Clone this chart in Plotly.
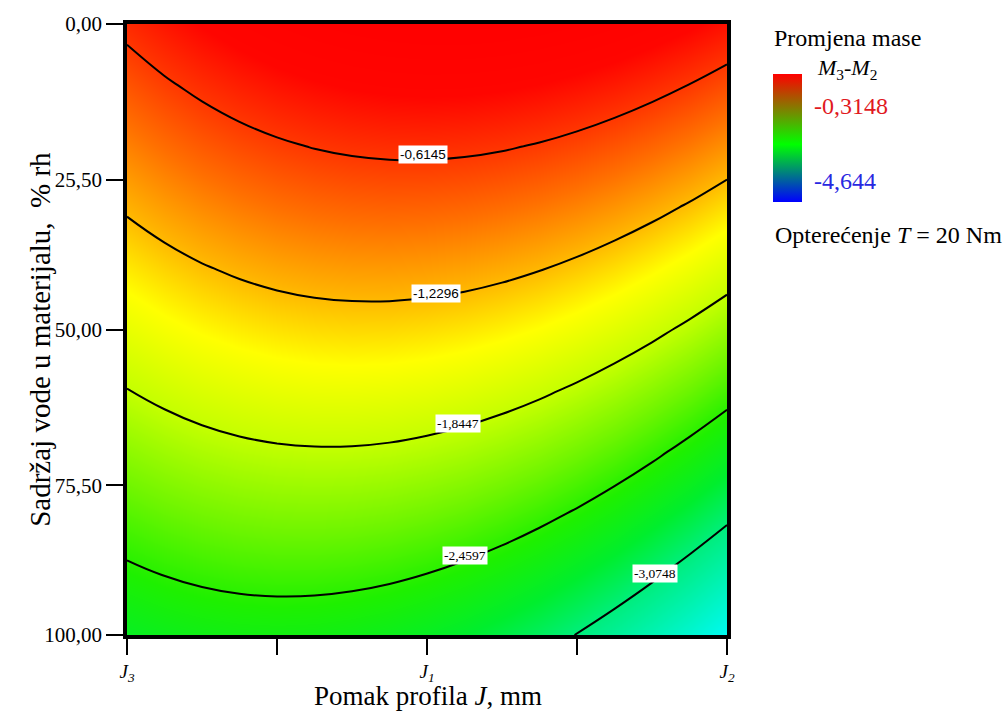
import plotly.graph_objects as go

# ---------------- data ----------------
# profile shift J, coded levels: J3 = -1, J1 = 0, J2 = +1
pomak_J = [-1.0, -0.875, -0.75, -0.625, -0.5, -0.375, -0.25, -0.125, 0.0,
           0.125, 0.25, 0.375, 0.5, 0.625, 0.75, 0.875, 1.0]
# water content in material, % rh
sadrzaj_vode = [0, 10, 20, 30, 40, 50, 60, 70, 80, 90, 100]
# mass change M3-M2 (rows follow sadrzaj_vode, columns follow pomak_J)
promjena_mase = [
    [-0.540, -0.423, -0.320, -0.232, -0.159, -0.099, -0.055, -0.024, -0.008, -0.006, -0.019, -0.047, -0.088, -0.144, -0.215, -0.300, -0.399],
    [-0.759, -0.648, -0.553, -0.471, -0.404, -0.352, -0.314, -0.290, -0.281, -0.286, -0.305, -0.339, -0.388, -0.450, -0.528, -0.619, -0.725],
    [-0.977, -0.874, -0.785, -0.710, -0.650, -0.604, -0.573, -0.556, -0.553, -0.565, -0.591, -0.632, -0.687, -0.757, -0.840, -0.939, -1.052],
    [-1.196, -1.099, -1.017, -0.949, -0.895, -0.856, -0.832, -0.821, -0.826, -0.844, -0.877, -0.925, -0.986, -1.063, -1.153, -1.258, -1.378],
    [-1.415, -1.325, -1.249, -1.188, -1.141, -1.109, -1.091, -1.087, -1.098, -1.123, -1.163, -1.217, -1.286, -1.369, -1.466, -1.578, -1.704],
    [-1.634, -1.550, -1.481, -1.427, -1.387, -1.361, -1.350, -1.353, -1.371, -1.403, -1.449, -1.510, -1.585, -1.675, -1.779, -1.898, -2.031],
    [-1.852, -1.776, -1.713, -1.666, -1.632, -1.613, -1.609, -1.619, -1.643, -1.682, -1.735, -1.803, -1.885, -1.981, -2.092, -2.217, -2.357],
    [-2.071, -2.001, -1.945, -1.904, -1.878, -1.866, -1.868, -1.884, -1.916, -1.961, -2.021, -2.095, -2.184, -2.287, -2.405, -2.537, -2.683],
    [-2.290, -2.226, -2.178, -2.143, -2.123, -2.118, -2.127, -2.150, -2.188, -2.240, -2.307, -2.388, -2.483, -2.593, -2.718, -2.856, -3.009],
    [-2.508, -2.452, -2.410, -2.382, -2.369, -2.370, -2.386, -2.416, -2.461, -2.520, -2.593, -2.681, -2.783, -2.899, -3.030, -3.176, -3.336],
    [-2.727, -2.677, -2.642, -2.621, -2.615, -2.623, -2.645, -2.682, -2.733, -2.799, -2.879, -2.973, -3.082, -3.206, -3.343, -3.496, -3.662],
]

# contour levels shown
razine = [-3.0748, -2.4597, -1.8447, -1.2296, -0.6145]
razine_tekst = ["-3,0748", "-2,4597", "-1,8447", "-1,2296", "-0,6145"]
# where each level's label sits (J coded, % rh)
oznaka_J = [0.76, 0.127, 0.103, 0.03, -0.013]
oznaka_rh = [89.9, 87.0, 65.4, 44.1, 21.4]
oznaka_font = ["Liberation Serif", "Liberation Serif", "Liberation Serif",
               "Liberation Sans", "Liberation Sans"]

# axis ticks
x_tick_vals = [-1.0, -0.5, 0.0, 0.5, 1.0]
x_tick_text = ["<i>J</i><sub><i>3</i></sub>", "", "<i>J</i><sub><i>1</i></sub>", "",
               "<i>J</i><sub><i>2</i></sub>"]
y_tick_vals = [0, 25.5, 50, 75.5, 100]
y_tick_text = ["0,00", "25,50", "50,00", "75,50", "100,00"]

# legend values
legenda_max = -0.3148
legenda_min = -4.644

# ---------------- figure ----------------
SERIF = "Liberation Serif"

heat_scale = [
    [0.000, "rgb(0,250,250)"],
    [0.162, "rgb(0,238,130)"],
    [0.243, "rgb(0,238,45)"],
    [0.324, "rgb(30,240,0)"],
    [0.405, "rgb(110,245,0)"],
    [0.500, "rgb(195,255,0)"],
    [0.595, "rgb(255,255,0)"],
    [0.676, "rgb(255,178,0)"],
    [0.757, "rgb(255,112,0)"],
    [0.838, "rgb(255,52,0)"],
    [0.910, "rgb(255,5,0)"],
    [1.000, "rgb(255,0,0)"],
]

fig = go.Figure()

fig.add_trace(go.Heatmap(
    x=pomak_J, y=sadrzaj_vode, z=promjena_mase,
    zmin=-3.7, zmax=0.0, colorscale=heat_scale, zsmooth="best",
    showscale=False, hoverinfo="skip",
))

fig.add_trace(go.Contour(
    x=pomak_J, y=sadrzaj_vode, z=promjena_mase,
    contours=dict(coloring="none", start=-3.07478, end=-0.6140, size=0.61506,
                  showlabels=False),
    line=dict(color="black", width=2, smoothing=1.3),
    showscale=False, hoverinfo="skip",
))

# dummy trace carrying the legend colour bar (red -> green -> blue)
fig.add_trace(go.Scatter(
    x=[pomak_J[0]], y=[sadrzaj_vode[0]], mode="markers",
    marker=dict(size=1, opacity=0, color=[legenda_min], coloraxis="coloraxis"),
    hoverinfo="skip", showlegend=False,
))

for txt, xj, yr, fnt in zip(razine_tekst, oznaka_J, oznaka_rh, oznaka_font):
    fig.add_annotation(x=xj, y=yr, xref="x", yref="y", text=txt, showarrow=False,
                       bgcolor="white", borderpad=1,
                       font=dict(family=fnt, size=13.5, color="black"))

W, H = 1006, 715
L, R, T, B = 127, 279, 14, 80
pw, ph = W - L - R, H - T - B


def px(xp):
    return (xp - L) / pw


def py(yp):
    return (H - B - yp) / ph


fig.update_layout(
    width=W, height=H,
    margin=dict(l=L, r=R, t=T, b=B),
    paper_bgcolor="white", plot_bgcolor="white",
    font=dict(family=SERIF, color="black"),
    coloraxis=dict(
        cmin=legenda_min, cmax=0.0,
        colorscale=[[0.0, "rgb(0,0,255)"], [0.45, "rgb(0,255,0)"], [1.0, "rgb(255,0,0)"]],
        colorbar=dict(x=px(773), xanchor="left", y=py(65), yanchor="top",
                      thickness=29, lenmode="pixels", len=128,
                      xpad=0, ypad=0, outlinewidth=0,
                      ticks="", showticklabels=False),
    ),
    xaxis=dict(range=[-1, 1], tickvals=x_tick_vals, ticktext=x_tick_text,
               ticks="outside", ticklen=16, tickwidth=1.5, tickcolor="black",
               tickfont=dict(family=SERIF, size=19), showgrid=False, zeroline=False,
               showline=True, linewidth=3.5, linecolor="black", mirror=True),
    yaxis=dict(range=[100, 0], tickvals=y_tick_vals, ticktext=y_tick_text,
               ticks="outside", ticklen=17, tickwidth=1.5, tickcolor="black",
               tickfont=dict(family=SERIF, size=21), showgrid=False, zeroline=False,
               showline=True, linewidth=3.5, linecolor="black", mirror=True),
    showlegend=False,
)

ann = [
    dict(text="Sadržaj vode u materijalu,  % rh", x=px(40), y=py(335), textangle=-90,
         size=29, color="black"),
    dict(text="Pomak profila <i>J</i>, mm", x=px(428), y=py(697), size=27, color="black"),
    dict(text="Promjena mase", x=px(772), y=py(28), xanchor="left", size=24, color="black"),
    dict(text="<i>M</i><sub>3</sub>-<i>M</i><sub>2</sub>", x=px(815), y=py(60),
         xanchor="left", size=22, color="black"),
    dict(text="-0,3148", x=px(812), y=py(97), xanchor="left", size=24,
         color="rgb(225,25,30)"),
    dict(text="-4,644", x=px(812), y=py(174), xanchor="left", size=24,
         color="rgb(40,40,225)"),
    dict(text="Opterećenje <i>T</i> = 20 Nm", x=px(773), y=py(228), xanchor="left",
         size=24, color="black"),
]
for a in ann:
    a = dict(a)
    size = a.pop("size")
    color = a.pop("color")
    a.setdefault("xanchor", "center")
    fig.add_annotation(xref="paper", yref="paper", showarrow=False, yanchor="middle",
                       font=dict(family=SERIF, size=size, color=color), **a)

fig.write_html("out.html", config={"displayModeBar": False},
               post_script="document.body.style.margin='0px';")
